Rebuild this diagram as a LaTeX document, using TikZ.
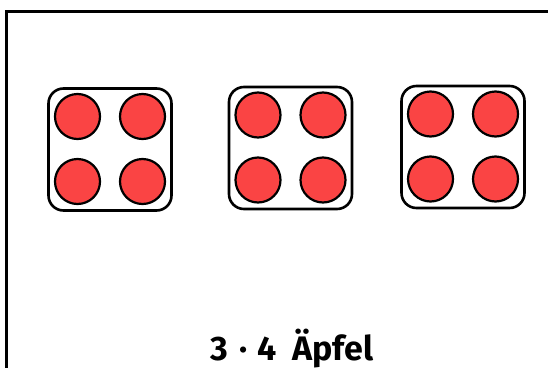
\documentclass[tikz,border=0pt]{standalone}
\usepackage{fontspec}
\setmainfont{Fira Sans}
\definecolor{dotred}{HTML}{FA4444}
\begin{document}
\begin{tikzpicture}[x=1pt,y=-1pt,
  diebox/.style={draw=black,line width=2.6pt,rounded corners=15pt,minimum width=123pt,minimum height=122pt,inner sep=0pt,fill=white},
  pip/.style={circle,draw=black,line width=2.2pt,fill=dotred,minimum size=45pt,inner sep=0pt},
  frameline/.style={draw=black,line width=3pt}]
\useasboundingbox (0,0) rectangle (548,367);
\path[frameline] (6,400) -- (6,11) -- (560,11);
\foreach \n/\cx/\cy in {a/110/149.5,b/290.5/148,c/463/147}{
  \node[diebox] (box\n) at (\cx,\cy) {};
  \node[pip] (\n1) at (\cx-32.5,\cy-33) {};
  \node[pip] (\n2) at (\cx+32.5,\cy-33) {};
  \node[pip] (\n3) at (\cx-32.5,\cy+32) {};
  \node[pip] (\n4) at (\cx+32.5,\cy+32) {};
}
\node[anchor=base,inner sep=0pt,font=\fontsize{34}{40}\selectfont\bfseries] (label) at (292,360) {3\hspace{11pt}·\hspace{10pt}4\hspace{16pt}Äpfel};
\end{tikzpicture}
\end{document}
